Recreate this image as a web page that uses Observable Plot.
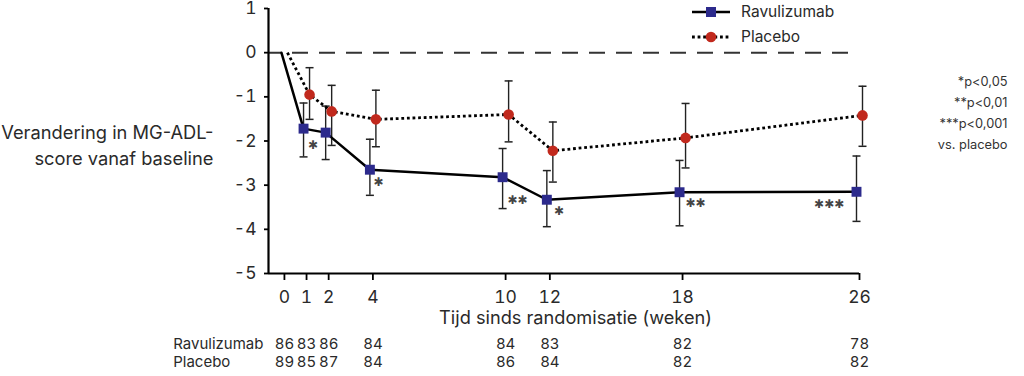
<!DOCTYPE html>
<html><head><meta charset="utf-8">
<script src="https://cdn.jsdelivr.net/npm/d3@7"></script>
<script src="https://cdn.jsdelivr.net/npm/@observablehq/plot@0.6"></script>
<style>
body{margin:0;background:#fff}
#chart svg{display:block;overflow:visible}
</style>
</head><body><div id="chart"></div>
<script>
// ---- data ----
const weeks    = [0, 1, 2, 4, 10, 12, 18, 26];
const ravMean  = [0, -1.72, -1.81, -2.65, -2.82, -3.33, -3.16, -3.15];
const ravLow   = [null, -2.36, -2.42, -3.23, -3.53, -3.94, -3.92, -3.82];
const ravHigh  = [null, -1.14, -1.21, -1.96, -2.17, -2.67, -2.44, -2.34];
const plaMean  = [0, -0.95, -1.33, -1.51, -1.40, -2.22, -1.93, -1.42];
const plaLow   = [null, -1.51, -2.10, -2.13, -2.02, -2.93, -2.61, -2.12];
const plaHigh  = [null, -0.34, -0.74, -0.85, -0.64, -1.57, -1.15, -0.76];
const ravN     = [86, 83, 86, 84, 84, 83, 82, 78];
const plaN     = [89, 85, 87, 84, 86, 84, 82, 82];
const yTicks   = [1, 0, -1, -2, -3, -4, -5];
const sigWeek  = [1.29, 4.25, 10.54, 12.41, 18.59, 24.63];
const sigY     = [-2.10, -2.93, -3.34, -3.59, -3.41, -3.44];
const sigLabel = ["✱", "✱", "✱✱", "✱", "✱✱", "✱✱✱"];
const seriesNames = ["Ravulizumab", "Placebo"];
const yTitle   = "Verandering in MG-ADL-\nscore vanaf baseline";
const xTitle   = "Tijd sinds randomisatie (weken)";
const footnote = ["*p<0,05", "**p<0,01", "***p<0,001", "vs. placebo"];

// ---- build tables ----
const rav = weeks.map((w, i) => ({week: w, mean: ravMean[i], low: ravLow[i], high: ravHigh[i], n: ravN[i]}));
const pla = weeks.map((w, i) => ({week: w, mean: plaMean[i], low: plaLow[i], high: plaHigh[i], n: plaN[i]}));
const ravBars = rav.filter(d => d.low != null);
const plaBars = pla.filter(d => d.low != null);
const sig = sigWeek.map((w, i) => ({week: w, y: sigY[i], label: sigLabel[i]}));

const NAVY = "#2c2a8c", RED = "#c1291d", INK = "#222";
const cap = {draw(ctx) { ctx.moveTo(-4, 0); ctx.lineTo(4, 0); }};
const DOT = "2.8,2.8";
const FONT = "Inter, 'Liberation Sans', sans-serif";

const errMarks = (data, dx) => [
  Plot.ruleX(data, {x: "week", y1: "low", y2: "high", dx, stroke: INK, strokeWidth: 1.4}),
  Plot.dot(data, {x: "week", y: "low", dx, symbol: cap, stroke: INK, strokeWidth: 1.5, fill: "none"}),
  Plot.dot(data, {x: "week", y: "high", dx, symbol: cap, stroke: INK, strokeWidth: 1.5, fill: "none"})
];

const svg = Plot.plot({
  width: 1024,
  height: 376,
  marginLeft: 268,
  marginRight: 165,
  marginTop: 8,
  marginBottom: 103,
  style: {fontFamily: FONT, fontSize: "17.5px", color: "#2a2a2a", background: "#fff"},
  x: {domain: [-0.72, 26]},
  y: {domain: [-5, 1]},
  marks: [
    Plot.ruleY([0], {stroke: "#333", strokeWidth: 2, strokeDasharray: "16,11", strokeDashoffset: 3}),
    ...errMarks(plaBars, 3),
    ...errMarks(ravBars, -3),
    Plot.line(pla, {x: "week", y: "mean", dx: 3, stroke: "#000", strokeWidth: 2.8, strokeDasharray: DOT, strokeLinecap: "butt"}),
    Plot.line(rav, {x: "week", y: "mean", dx: -3, stroke: "#000", strokeWidth: 2.5}),
    Plot.dot(plaBars, {x: "week", y: "mean", dx: 3, r: 5.3, fill: RED, symbol: "circle"}),
    Plot.dot(ravBars, {x: "week", y: "mean", dx: -3, r: 5.6, fill: NAVY, symbol: "square"}),
    Plot.text(sig, {x: "week", y: "y", text: "label", fontFamily: "DejaVu Sans", fontSize: 12, fill: "#444"}),
    Plot.ruleX([-0.72], {stroke: "#000", strokeWidth: 2.2}),
    Plot.ruleY([-5], {stroke: "#000", strokeWidth: 2.2}),
    Plot.axisY({ticks: yTicks, tickSize: 4, tickPadding: 8, tickFormat: d => String(d), label: null, strokeWidth: 1.8, stroke: "#000"}),
    Plot.axisX({ticks: weeks, tickSize: 7, tickPadding: 10, tickFormat: d => String(d), label: null, strokeWidth: 1.8, stroke: "#000"}),
    Plot.text([yTitle], {frameAnchor: "left", textAnchor: "end", dx: -55, dy: 3, lineHeight: 1.38, fontSize: 18.3}),
    Plot.text([xTitle], {frameAnchor: "bottom", dx: 11.5, dy: 50, fontSize: 18.2}),
    Plot.text(rav, {x: "week", text: "n", frameAnchor: "bottom", dy: 75, fontSize: 15}),
    Plot.text(pla, {x: "week", text: "n", frameAnchor: "bottom", dy: 93.4, fontSize: 15}),
    Plot.text([seriesNames[0]], {frameAnchor: "bottom-left", textAnchor: "start", dx: -95.3, dy: 75, fontSize: 15}),
    Plot.text([seriesNames[1]], {frameAnchor: "bottom-left", textAnchor: "start", dx: -95.3, dy: 93.4, fontSize: 15}),
    Plot.text([footnote.join("\n")], {frameAnchor: "right", textAnchor: "end", dx: 148, dy: -30.5, lineHeight: 1.65, fontSize: 12.8, fill: "#333"})
  ]
});

// legend (top right, inside the frame)
const g = d3.select(svg).append("g")
  .attr("font-family", FONT)
  .attr("font-size", 15.5)
  .attr("text-anchor", "start")
  .attr("fill", "#2a2a2a");
const rows = [
  {name: seriesNames[0], y: 12, dash: null, w: 2.5},
  {name: seriesNames[1], y: 37, dash: DOT, w: 2.8}
];
rows.forEach((r, i) => {
  g.append("line").attr("x1", 692).attr("x2", 730).attr("y1", r.y).attr("y2", r.y)
    .attr("stroke", "#000").attr("stroke-width", r.w).attr("stroke-dasharray", r.dash);
  if (i === 0) g.append("rect").attr("x", 706).attr("y", r.y - 5).attr("width", 10).attr("height", 10).attr("fill", NAVY);
  else g.append("circle").attr("cx", 711).attr("cy", r.y).attr("r", 5.3).attr("fill", RED);
  g.append("text").attr("x", 741).attr("y", r.y).attr("dy", "0.35em").attr("text-anchor", "start").text(r.name);
});

document.getElementById("chart").appendChild(svg);
</script>
</body></html>
